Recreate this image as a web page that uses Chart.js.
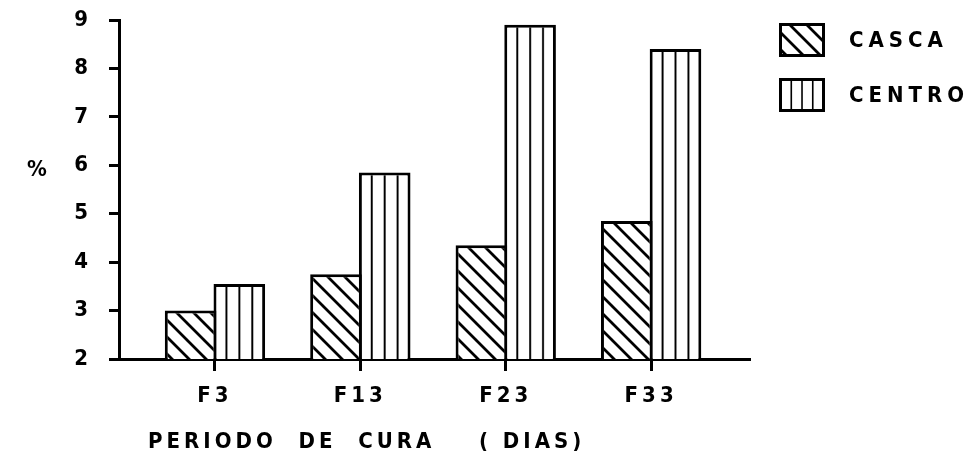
<!DOCTYPE html>
<html>
<head>
<meta charset="utf-8">
<script src="https://cdn.jsdelivr.net/npm/chart.js@4/dist/chart.umd.min.js"></script>
<style>
html,body{margin:0;padding:0;background:#fff;}
canvas{display:block;}
</style>
</head>
<body>
<canvas id="c" width="971" height="458"></canvas>
<script>
// ---- data ----
const categories = ['F3', 'F13', 'F23', 'F33'];
const casca  = [3.0, 3.75, 4.35, 4.85];
const centro = [3.55, 5.85, 8.9, 8.4];
const seriesNames = ['CASCA', 'CENTRO'];
const yTicks = [2, 3, 4, 5, 6, 7, 8, 9];
const yAxisLabel = '%';
const xAxisTitle = 'PERIODO  DE  CURA    ( DIAS)';

// ---- style ----
const FONT = '"DejaVu Sans Condensed", "DejaVu Sans", sans-serif';
const FSIZE = 22;
const CAT_PCT = 0.67, BAR_PCT = 1.06;
const canvas = document.getElementById('c');
const ctx0 = canvas.getContext('2d');

function hatchPattern(ctx, p) {
  const c = document.createElement('canvas'); c.width = p; c.height = p;
  const g = c.getContext('2d');
  g.fillStyle = '#fff'; g.fillRect(0, 0, p, p);
  g.strokeStyle = '#000'; g.lineWidth = 2.8;
  g.beginPath();
  g.moveTo(-3, -3); g.lineTo(p + 3, p + 3);
  g.moveTo(-3, p - 3); g.lineTo(3, p + 3);
  g.moveTo(p - 3, -3); g.lineTo(p + 3, 3);
  g.stroke();
  return ctx.createPattern(c, 'repeat');
}
function vPattern(ctx, period, offsetX) {
  const T = 20;
  const c = document.createElement('canvas'); c.width = T; c.height = 4;
  const g = c.getContext('2d');
  g.fillStyle = '#fff'; g.fillRect(0, 0, T, 4);
  g.fillStyle = '#000';
  g.fillRect(0, 0, 1.5, 4); g.fillRect(T - 1.5, 0, 1.5, 4);
  const pat = ctx.createPattern(c, 'repeat');
  pat.setTransform(new DOMMatrix().translate(offsetX, 0).scale(period / T, 1));
  return pat;
}
const hatch = hatchPattern(ctx0, 17);
const vBase = vPattern(ctx0, 13, 0);

function centroBg(c) {
  const chart = c.chart;
  const xs = chart.scales && chart.scales.x;
  if (!xs || c.dataIndex === undefined) return vBase;
  const px = xs.getPixelForValue(c.dataIndex + 1);
  const step = Math.abs(xs.getPixelForValue(2) - xs.getPixelForValue(1));
  if (!isFinite(px) || !isFinite(step) || step === 0) return vBase;
  const slot = step * CAT_PCT / 2;
  const w = slot * BAR_PCT;
  const left = px + slot / 2 - w / 2;
  return vPattern(chart.ctx, w / 4, left);
}

const deco = {
  id: 'deco',
  beforeUpdate(chart) { chart.ctx.letterSpacing = '4px'; },
  beforeLayout(chart) { chart.ctx.letterSpacing = '4px'; },
  beforeDraw(chart) { chart.ctx.letterSpacing = '4px'; },
  afterDraw(chart) {
    const ctx = chart.ctx;
    ctx.save();
    ctx.fillStyle = '#000';
    ctx.font = 'bold ' + FSIZE + 'px ' + FONT;
    ctx.textBaseline = 'middle';
    ctx.textAlign = 'left';
    // y label
    ctx.letterSpacing = '0px';
    ctx.fillText(yAxisLabel, 27, 170);
    // x title
    ctx.letterSpacing = '4px';
    ctx.fillText(xAxisTitle, 148, 442);
    // legend
    const ds = chart.data.datasets;
    const boxes = [
      { y: 24.5, fill: hatch },
      { y: 79.5, fill: vPattern(ctx, 43 / 4, 780.5) }
    ];
    ctx.letterSpacing = '5px';
    boxes.forEach((b, i) => {
      ctx.fillStyle = b.fill;
      ctx.fillRect(780.5, b.y, 43, 31);
      ctx.lineWidth = 3; ctx.strokeStyle = '#000';
      ctx.strokeRect(780.5, b.y, 43, 31);
      ctx.fillStyle = '#000';
      ctx.fillText(ds[i].label, 849, b.y + 17);
    });
    ctx.restore();
  }
};

new Chart(canvas, {
  type: 'bar',
  data: {
    datasets: [
      {
        label: seriesNames[0],
        data: casca.map((v, i) => ({ x: i + 1, y: v })),
        backgroundColor: hatch,
        borderColor: '#000', borderWidth: 3, borderSkipped: 'bottom',
        categoryPercentage: CAT_PCT, barPercentage: BAR_PCT
      },
      {
        label: seriesNames[1],
        data: centro.map((v, i) => ({ x: i + 1, y: v })),
        backgroundColor: centroBg,
        borderColor: '#000', borderWidth: 3, borderSkipped: 'bottom',
        categoryPercentage: CAT_PCT, barPercentage: BAR_PCT
      }
    ]
  },
  options: {
    responsive: false,
    devicePixelRatio: 1,
    animation: false,
    layout: { padding: { left: 0, top: 20, right: 221, bottom: 0 } },
    plugins: { legend: { display: false }, tooltip: { enabled: false } },
    scales: {
      x: {
        type: 'linear', min: 0.34, max: 4.68, offset: false,
        afterBuildTicks: s => { s.ticks = categories.map((_, i) => ({ value: i + 1 })); },
        afterFit: s => { s.height = 99; },
        ticks: {
          autoSkip: false, maxRotation: 0, color: '#000', padding: 12,
          font: { family: FONT, size: FSIZE, weight: 'bold' },
          callback: v => categories[Math.round(v) - 1] ?? ''
        },
        grid: { offset: false, drawOnChartArea: false, drawTicks: true, tickLength: 12, tickWidth: 3, tickColor: '#000' },
        border: { display: true, width: 3, color: '#000' }
      },
      y: {
        min: 2, max: 9,
        afterBuildTicks: s => { s.ticks = yTicks.map(v => ({ value: v })); },
        afterFit: s => { s.width = 119; s.paddingTop = 0; s.paddingBottom = 0; },
        ticks: {
          color: '#000', padding: 17,
          font: { family: FONT, size: FSIZE, weight: 'bold' }
        },
        grid: { drawOnChartArea: false, drawTicks: true, tickLength: 10, tickWidth: 3, tickColor: '#000' },
        border: { display: true, width: 3, color: '#000' }
      }
    }
  },
  plugins: [deco]
});
</script>
</body>
</html>
